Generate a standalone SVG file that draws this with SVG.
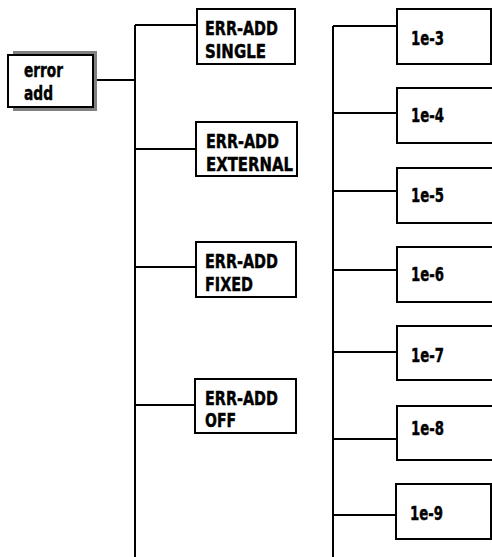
<svg xmlns="http://www.w3.org/2000/svg" width="492" height="557" viewBox="0 0 492 557">
<style>
.box{fill:#fff;stroke:#000;stroke-width:2}
.ln{stroke:#000;stroke-width:2;fill:none}
text{font-family:"DejaVu Sans Condensed","Liberation Sans",sans-serif;font-weight:bold;font-size:19px;fill:#000;stroke:#000;stroke-width:0.4}
</style>
<rect width="492" height="557" fill="#fff"/>
<g id="connectors">
<path class="ln" d="M135,25V557M97,80H135M135,25H197M135,149H196M135,267H196M135,405H195"/>
<path class="ln" d="M333,26V557M333,26H397M333,113H397M333,191H397M333,270H397M333,352H397M333,439H397M333,515H396"/>
</g>
<g id="error-add">
<rect x="13" y="51" width="84" height="60" fill="#808080"/>
<rect class="box" x="8" y="55" width="85" height="52"/>
<text x="24" y="77" textLength="39" lengthAdjust="spacingAndGlyphs">error</text>
<text x="24" y="100" textLength="29" lengthAdjust="spacingAndGlyphs">add</text>
</g>
<g id="err-add-single">
<rect class="box" x="197" y="9" width="98" height="55"/>
<text x="205" y="35" textLength="73" lengthAdjust="spacingAndGlyphs">ERR-ADD</text>
<text x="205" y="58" textLength="61" lengthAdjust="spacingAndGlyphs">SINGLE</text>
</g>
<g id="err-add-external">
<rect class="box" x="196" y="122" width="101" height="54"/>
<text x="206" y="148" textLength="73" lengthAdjust="spacingAndGlyphs">ERR-ADD</text>
<text x="206" y="171" textLength="87" lengthAdjust="spacingAndGlyphs">EXTERNAL</text>
</g>
<g id="err-add-fixed">
<rect class="box" x="196" y="242" width="100" height="55"/>
<text x="205" y="268" textLength="73" lengthAdjust="spacingAndGlyphs">ERR-ADD</text>
<text x="205" y="291" textLength="48" lengthAdjust="spacingAndGlyphs">FIXED</text>
</g>
<g id="err-add-off">
<rect class="box" x="195" y="379" width="101" height="54"/>
<text x="205" y="405" textLength="73" lengthAdjust="spacingAndGlyphs">ERR-ADD</text>
<text x="205" y="427" textLength="31" lengthAdjust="spacingAndGlyphs">OFF</text>
</g>
<g id="n1e-3"><rect class="box" x="397" y="9" width="94" height="55"/><text x="411" y="45" textLength="33" lengthAdjust="spacingAndGlyphs">1e-3</text></g>
<g id="n1e-4"><rect class="box" x="397" y="88" width="97" height="55"/><text x="411" y="122" textLength="33" lengthAdjust="spacingAndGlyphs">1e-4</text></g>
<g id="n1e-5"><rect class="box" x="397" y="168" width="97" height="55"/><text x="411" y="202" textLength="33" lengthAdjust="spacingAndGlyphs">1e-5</text></g>
<g id="n1e-6"><rect class="box" x="397" y="247" width="97" height="55"/><text x="411" y="281" textLength="33" lengthAdjust="spacingAndGlyphs">1e-6</text></g>
<g id="n1e-7"><rect class="box" x="397" y="326" width="97" height="54"/><text x="411" y="362" textLength="33" lengthAdjust="spacingAndGlyphs">1e-7</text></g>
<g id="n1e-8"><rect class="box" x="397" y="406" width="97" height="54"/><text x="411" y="435" textLength="33" lengthAdjust="spacingAndGlyphs">1e-8</text></g>
<g id="n1e-9"><rect class="box" x="396" y="484" width="95" height="55"/><text x="410" y="520" textLength="33" lengthAdjust="spacingAndGlyphs">1e-9</text></g>
</svg>
